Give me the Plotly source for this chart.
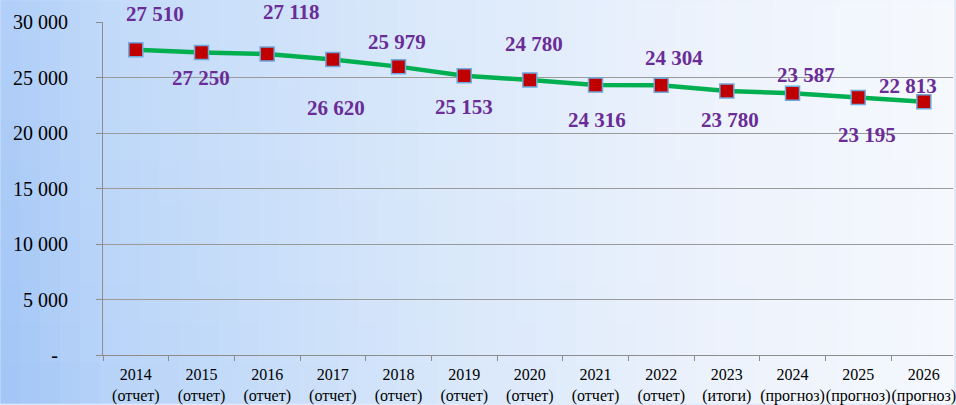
import plotly.graph_objects as go

years = ["2014", "2015", "2016", "2017", "2018", "2019", "2020",
         "2021", "2022", "2023", "2024", "2025", "2026"]
status = ["отчет", "отчет", "отчет", "отчет", "отчет", "отчет", "отчет",
          "отчет", "отчет", "итоги", "прогноз", "прогноз", "прогноз"]
values = [27510, 27250, 27118, 26620, 25979, 25153, 24780,
          24316, 24304, 23780, 23587, 23195, 22813]
y_tickvals = [0, 5000, 10000, 15000, 20000, 25000, 30000]
y_ticktext = ["-\u00a0\u00a0", "5 000", "10 000", "15 000", "20 000", "25 000", "30 000"]

categories = [f"{y}<br>({s})" for y, s in zip(years, status)]
labels = [f"{v:,}".replace(",", " ") for v in values]

# label offsets in pixels (dx right, dy down)
label_dx = [19, -1, 24, 3, -2, 0, 4, 1, 13, 3, 13, 9, -16]
label_dy = [-36, 25, -42, 48, -25, 31, -36, 35, -27, 29, -18, 37, -16]

W, H = 956, 405
ML, MR, MT, MB = 103, 0, 22, 48
PW, PH = W - ML - MR, H - MT - MB

fig = go.Figure()
fig.add_trace(go.Scatter(
    x=categories, y=values, mode="lines+markers",
    line=dict(color="#00b050", width=4.5),
    marker=dict(symbol="square", size=14, color="#c00000",
                line=dict(color="#6fa8dc", width=1.5)),
    hoverinfo="skip", showlegend=False,
))

for c, v, t, dx, dy in zip(categories, values, labels, label_dx, label_dy):
    fig.add_annotation(x=c, y=v, text=f"<b>{t}</b>", showarrow=False,
                       xshift=dx, yshift=-dy,
                       font=dict(family="Liberation Serif", size=21, color="#6a2c96"))

# background gradient
def lerp(a, b, t):
    return tuple(a[i] + (b[i] - a[i]) * t for i in range(3))

stops = [(0.0, (160, 196, 246)), (0.12, (184, 212, 248)), (0.45, (214, 230, 250)),
         (0.75, (236, 242, 252)), (1.0, (245, 248, 253))]

def hcol(u):
    for (u0, c0), (u1, c1) in zip(stops[:-1], stops[1:]):
        if u <= u1:
            return lerp(c0, c1, (u - u0) / (u1 - u0))
    return stops[-1][1]

NC, NR = 48, 10
shapes = []
for i in range(NC):
    for j in range(NR):
        u = (i + 0.5) / NC
        v = (j + 0.5) / NR
        col = hcol(u)
        col = lerp(col, (250, 252, 255), 0.18 * (1 - v) * (1 - u * 0.5))
        px0, px1 = i * W / NC, (i + 1) * W / NC + 1
        py0, py1 = j * H / NR, (j + 1) * H / NR + 1
        shapes.append(dict(
            type="rect", xref="paper", yref="paper", layer="below",
            x0=(px0 - ML) / PW, x1=(px1 - ML) / PW,
            y0=(H - MB - py1) / PH, y1=(H - MB - py0) / PH,
            line=dict(width=0),
            fillcolor="rgb(%d,%d,%d)" % tuple(int(round(x)) for x in col)))

fig.update_layout(
    width=W, height=H,
    margin=dict(l=ML, r=MR, t=MT, b=MB),
    paper_bgcolor="#dfeafa", plot_bgcolor="rgba(0,0,0,0)",
    shapes=shapes,
    font=dict(family="Liberation Serif", color="black"),
    xaxis=dict(type="category", range=[-0.5, 12.444], tickson="boundaries",
               ticks="outside", ticklen=5, tickcolor="#8c8c8c",
               showline=True, linecolor="#8c8c8c", linewidth=1,
               showgrid=False, tickfont=dict(size=16), tickangle=0,
               ticklabelstandoff=5),
    yaxis=dict(range=[0, 30000], tickvals=y_tickvals, ticktext=y_ticktext,
               ticks="outside", ticklen=6, tickcolor="#8c8c8c",
               showline=True, linecolor="#8c8c8c", linewidth=1,
               showgrid=True, gridcolor="#9a9a9a", gridwidth=1,
               zeroline=False, tickfont=dict(size=20), ticklabelstandoff=24),
)

fig.write_html(
    "out.html",
    config={"displayModeBar": False},
    post_script="document.body.style.margin='0px';document.body.style.overflow='hidden';",
)
